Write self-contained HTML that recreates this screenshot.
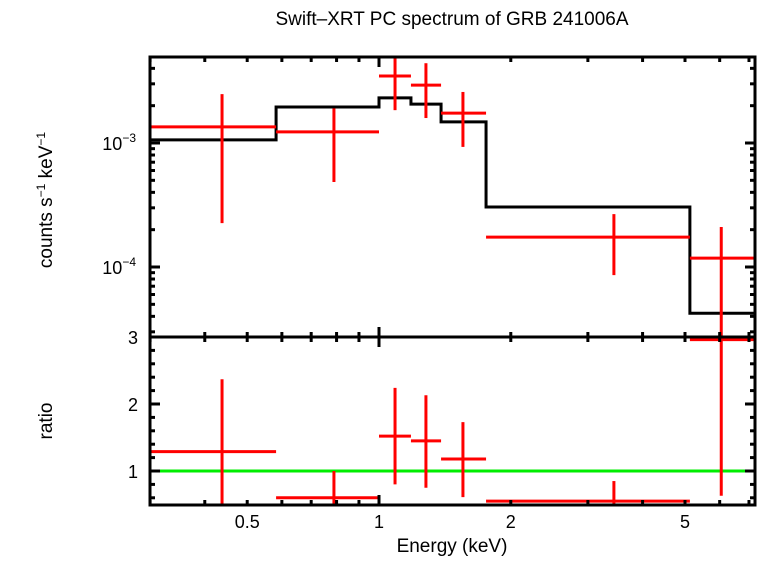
<!DOCTYPE html>
<html><head><meta charset="utf-8"><style>
body{margin:0;background:#fff}
svg text{font-family:"Liberation Sans",sans-serif;fill:#000}
</style></head><body>
<svg id="c" width="758" height="556" xmlns="http://www.w3.org/2000/svg">
<text x="452" y="25" font-size="19" text-anchor="middle">Swift–XRT PC spectrum of GRB 241006A</text>
<text transform="translate(52,200) rotate(-90)" font-size="19" text-anchor="middle">counts s<tspan font-size="12" dy="-7">−1</tspan><tspan dy="7"> keV</tspan><tspan font-size="12" dy="-7">−1</tspan></text>
<text transform="translate(52,421) rotate(-90)" font-size="19" text-anchor="middle">ratio</text>
<text x="452" y="552" font-size="19" text-anchor="middle">Energy (keV)</text>
<g id="g"></g>
</svg>
<script>
const eLo=[0.3,0.582,1.0,1.183,1.386,1.756,5.13];
const eHi=[0.582,1.0,1.183,1.386,1.756,5.13,7.3];
const eMid=[0.438,0.789,1.088,1.28,1.555,3.44,6.05];
const flux=[1.35e-3,1.23e-3,3.47e-3,2.93e-3,1.74e-3,1.74e-4,1.18e-4];
const fluxHi=[2.48e-3,1.9e-3,5.2e-3,4.4e-3,2.58e-3,2.67e-4,2.1e-4];
const fluxLo=[2.26e-4,4.85e-4,1.84e-3,1.59e-3,9.3e-4,8.6e-5,2.5e-5];
const model=[1.06e-3,1.95e-3,2.31e-3,2.06e-3,1.48e-3,3.05e-4,4.24e-5];
const ratio=[1.29,0.6,1.52,1.45,1.18,0.55,2.96];
const ratioHi=[2.37,1.0,2.24,2.13,1.73,0.85,3.1];
const ratioLo=[0.4,0.4,0.8,0.75,0.61,0.4,0.63];
const xTicks=[0.5,1,2,5];
const xTickLabels=["0.5","1","2","5"];
const rTicks=[1,2,3];

const L=150,R=755,T=57,M=337,B=505;
const X=e=>379+437.8*Math.log10(e);
const Y=v=>143-124*(Math.log10(v)+3);
const YR=r=>471-67*(r-1);
const g=document.getElementById('g');
const NS='http://www.w3.org/2000/svg';
function mk(tag,a){const el=document.createElementNS(NS,tag);for(const k in a)el.setAttribute(k,a[k]);g.appendChild(el);return el;}
const cl=v=>Math.max(T,Math.min(M,v));
const clr=v=>Math.max(M,Math.min(B,v));

let d='';
for(let i=0;i<model.length;i++){const x0=X(eLo[i]),x1=Math.min(R,X(eHi[i])),y=Y(model[i]);d+=(i?'L':'M')+x0+' '+y+'L'+x1+' '+y;}
let p=mk('path',{d:d,fill:'none',stroke:'#000','stroke-width':3});


let ln=mk('line',{x1:L,x2:R,y1:YR(1),y2:YR(1),stroke:'#00ee00','stroke-width':3});


for(let i=0;i<flux.length;i++){
 const x0=X(eLo[i]),x1=Math.min(R,X(eHi[i])),xm=X(eMid[i]);
 let a=mk('line',{x1:x0,x2:x1,y1:Y(flux[i]),y2:Y(flux[i]),stroke:'#f00','stroke-width':3});
 
 
 let b=mk('line',{x1:xm,x2:xm,y1:cl(Y(fluxHi[i])),y2:cl(Y(fluxLo[i])),stroke:'#f00','stroke-width':3});
 
 
 let c=mk('line',{x1:x0,x2:x1,y1:clr(YR(ratio[i])),y2:clr(YR(ratio[i])),stroke:'#f00','stroke-width':3});
 
 
 let e=mk('line',{x1:xm,x2:xm,y1:clr(YR(ratioHi[i])),y2:clr(YR(ratioLo[i])),stroke:'#f00','stroke-width':3});
 
 
}
let f1=mk('rect',{x:L,y:T,width:R-L,height:M-T,fill:'none',stroke:'#000','stroke-width':3});


let f2=mk('rect',{x:L,y:M,width:R-L,height:B-M,fill:'none',stroke:'#000','stroke-width':3});


function tick(x1,y1,x2,y2){let t=mk('line',{x1,y1,x2,y2,stroke:'#000','stroke-width':3});}
for(let dec=0.1;dec<=1;dec*=10){for(let k=1;k<10;k++){const e=k*dec;const x=X(e);if(x<L||x>R)continue;const len=(k==1)?10:5;
 [T,M,B].forEach(y=>{ if(y==T)tick(x,T,x,T+len); else if(y==B)tick(x,B,x,B-len); else tick(x,M-len,x,M+len);});}}
xTicks.forEach((e,i)=>{let t=mk('text',{x:X(e),y:528,'font-size':18,'text-anchor':'middle'});t.textContent=xTickLabels[i];});
for(let dec=1e-5;dec<=1e-3;dec*=10){for(let k=1;k<10;k++){const y=Y(k*dec);if(y<T||y>M)continue;const len=k==1?10:5;tick(L,y,L+len,y);tick(R,y,R-len,y);}}
[[1e-3,'−3'],[1e-4,'−4']].forEach(([v,s])=>{let t=mk('text',{x:136,y:Y(v)+7,'font-size':18,'text-anchor':'end'});t.innerHTML='10<tspan font-size="12" dy="-8">'+s+'</tspan>';});
for(let r=0.6;r<=3.001;r+=0.2){const y=YR(r);if(y<M||y>B)continue;const maj=Math.abs(r-Math.round(r))<0.01;const len=maj?10:5;tick(L,y,L+len,y);tick(R,y,R-len,y);}
rTicks.forEach(r=>{let t=mk('text',{x:138,y:YR(r)+7,'font-size':18,'text-anchor':'end'});t.textContent=r;});
</script>
</body></html>
